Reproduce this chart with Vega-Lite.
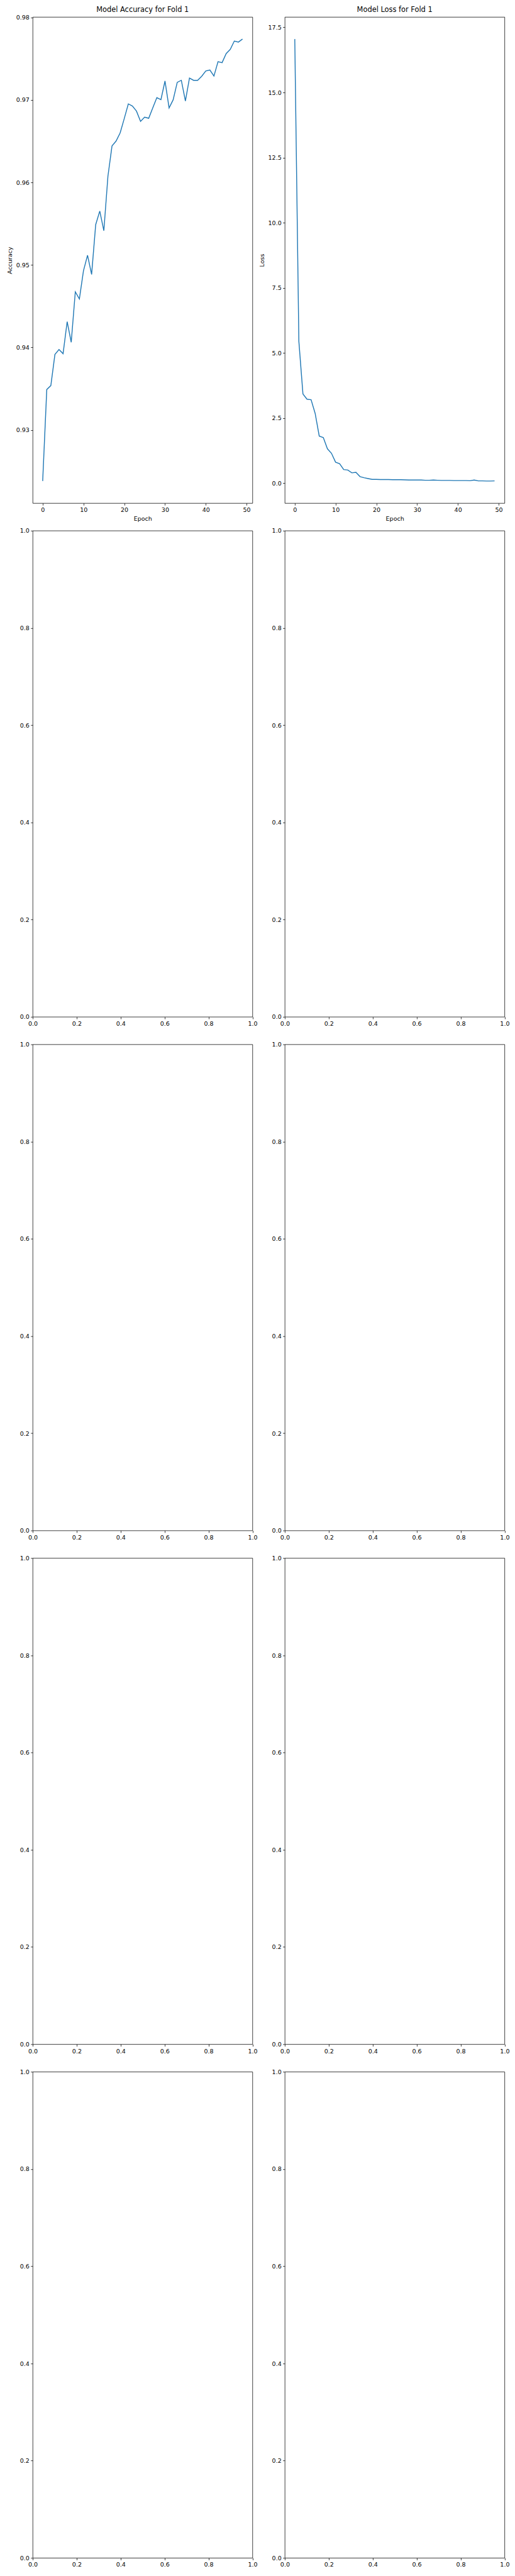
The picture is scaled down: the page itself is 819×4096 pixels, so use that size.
{
  "$schema": "https://vega.github.io/schema/vega-lite/v6.json",
  "background": "white",
  "padding": {"left": 10, "top": 9, "right": 0, "bottom": 0},
  "datasets": {
    "acc": [
      {"epoch": 0, "accuracy": 0.9238}, {"epoch": 1, "accuracy": 0.93489}, {"epoch": 2, "accuracy": 0.93537},
      {"epoch": 3, "accuracy": 0.93915}, {"epoch": 4, "accuracy": 0.93974}, {"epoch": 5, "accuracy": 0.93924},
      {"epoch": 6, "accuracy": 0.94312}, {"epoch": 7, "accuracy": 0.94062}, {"epoch": 8, "accuracy": 0.94674},
      {"epoch": 9, "accuracy": 0.94588}, {"epoch": 10, "accuracy": 0.94928}, {"epoch": 11, "accuracy": 0.95117},
      {"epoch": 12, "accuracy": 0.94885}, {"epoch": 13, "accuracy": 0.95488}, {"epoch": 14, "accuracy": 0.95653},
      {"epoch": 15, "accuracy": 0.95415}, {"epoch": 16, "accuracy": 0.96075}, {"epoch": 17, "accuracy": 0.96442},
      {"epoch": 18, "accuracy": 0.96502}, {"epoch": 19, "accuracy": 0.96601}, {"epoch": 20, "accuracy": 0.96774},
      {"epoch": 21, "accuracy": 0.96952}, {"epoch": 22, "accuracy": 0.96927}, {"epoch": 23, "accuracy": 0.96865},
      {"epoch": 24, "accuracy": 0.9674}, {"epoch": 25, "accuracy": 0.96792}, {"epoch": 26, "accuracy": 0.96778},
      {"epoch": 27, "accuracy": 0.96905}, {"epoch": 28, "accuracy": 0.97028}, {"epoch": 29, "accuracy": 0.97004},
      {"epoch": 30, "accuracy": 0.9723}, {"epoch": 31, "accuracy": 0.96903}, {"epoch": 32, "accuracy": 0.97002},
      {"epoch": 33, "accuracy": 0.97214}, {"epoch": 34, "accuracy": 0.97238}, {"epoch": 35, "accuracy": 0.96988},
      {"epoch": 36, "accuracy": 0.97266}, {"epoch": 37, "accuracy": 0.97238}, {"epoch": 38, "accuracy": 0.97238},
      {"epoch": 39, "accuracy": 0.97288}, {"epoch": 40, "accuracy": 0.97351}, {"epoch": 41, "accuracy": 0.97363},
      {"epoch": 42, "accuracy": 0.9729}, {"epoch": 43, "accuracy": 0.97464}, {"epoch": 44, "accuracy": 0.97452},
      {"epoch": 45, "accuracy": 0.97562}, {"epoch": 46, "accuracy": 0.97613}, {"epoch": 47, "accuracy": 0.97714},
      {"epoch": 48, "accuracy": 0.97702}, {"epoch": 49, "accuracy": 0.97738}
    ],
    "loss": [
      {"epoch": 0, "loss": 17.05}, {"epoch": 1, "loss": 5.447}, {"epoch": 2, "loss": 3.426},
      {"epoch": 3, "loss": 3.224}, {"epoch": 4, "loss": 3.205}, {"epoch": 5, "loss": 2.676},
      {"epoch": 6, "loss": 1.807}, {"epoch": 7, "loss": 1.751}, {"epoch": 8, "loss": 1.322},
      {"epoch": 9, "loss": 1.146}, {"epoch": 10, "loss": 0.806}, {"epoch": 11, "loss": 0.749},
      {"epoch": 12, "loss": 0.523}, {"epoch": 13, "loss": 0.504}, {"epoch": 14, "loss": 0.397},
      {"epoch": 15, "loss": 0.416}, {"epoch": 16, "loss": 0.252}, {"epoch": 17, "loss": 0.208},
      {"epoch": 18, "loss": 0.176}, {"epoch": 19, "loss": 0.145}, {"epoch": 20, "loss": 0.145},
      {"epoch": 21, "loss": 0.139}, {"epoch": 22, "loss": 0.139}, {"epoch": 23, "loss": 0.139},
      {"epoch": 24, "loss": 0.132}, {"epoch": 25, "loss": 0.132}, {"epoch": 26, "loss": 0.132},
      {"epoch": 27, "loss": 0.126}, {"epoch": 28, "loss": 0.12}, {"epoch": 29, "loss": 0.12},
      {"epoch": 30, "loss": 0.12}, {"epoch": 31, "loss": 0.12}, {"epoch": 32, "loss": 0.113},
      {"epoch": 33, "loss": 0.113}, {"epoch": 34, "loss": 0.12}, {"epoch": 35, "loss": 0.113},
      {"epoch": 36, "loss": 0.107}, {"epoch": 37, "loss": 0.107}, {"epoch": 38, "loss": 0.107},
      {"epoch": 39, "loss": 0.101}, {"epoch": 40, "loss": 0.101}, {"epoch": 41, "loss": 0.101},
      {"epoch": 42, "loss": 0.101}, {"epoch": 43, "loss": 0.094}, {"epoch": 44, "loss": 0.12},
      {"epoch": 45, "loss": 0.088}, {"epoch": 46, "loss": 0.088}, {"epoch": 47, "loss": 0.082},
      {"epoch": 48, "loss": 0.082}, {"epoch": 49, "loss": 0.088}
    ],
    "empty": []
  },
  "columns": 2,
  "spacing": {"row": 43.8, "column": 50.9},
  "bounds": "flush",
  "align": "all",
  "concat": [
    {
      "width": 349.5, "height": 773,
      "title": {"text": "Model Accuracy for Fold 1", "offset": 1},
      "data": {"name": "acc"},
      "mark": {"type": "line", "color": "#1f77b4", "strokeWidth": 1.42},
      "encoding": {
        "x": {"field": "epoch", "type": "quantitative", "scale": {"domain": [-2.45, 51.45], "nice": false, "zero": false},
              "axis": {"values": [0, 10, 20, 30, 40, 50], "format": "d", "title": "Epoch"}},
        "y": {"field": "accuracy", "type": "quantitative", "scale": {"domain": [0.92112, 0.98006], "nice": false, "zero": false},
              "axis": {"values": [0.93, 0.94, 0.95, 0.96, 0.97, 0.98], "format": ".2f", "title": "Accuracy"}}
      }
    },
    {
      "width": 349.5, "height": 773,
      "title": {"text": "Model Loss for Fold 1", "offset": 5.7},
      "data": {"name": "loss"},
      "mark": {"type": "line", "color": "#1f77b4", "strokeWidth": 1.42},
      "encoding": {
        "x": {"field": "epoch", "type": "quantitative", "scale": {"domain": [-2.45, 51.45], "nice": false, "zero": false},
              "axis": {"values": [0, 10, 20, 30, 40, 50], "format": "d", "title": "Epoch"}},
        "y": {"field": "loss", "type": "quantitative", "scale": {"domain": [-0.766, 17.898], "nice": false, "zero": false},
              "axis": {"values": [0, 2.5, 5, 7.5, 10, 12.5, 15, 17.5], "format": ".1f", "title": "Loss"}}
      }
    },
    {
      "width": 349.5, "height": 773, "data": {"name": "empty"}, "mark": "line",
      "encoding": {
        "x": {"field": "x", "type": "quantitative", "scale": {"domain": [0, 1], "nice": false}, "axis": {"values": [0, 0.2, 0.4, 0.6, 0.8, 1], "format": ".1f", "title": null}},
        "y": {"field": "y", "type": "quantitative", "scale": {"domain": [0, 1], "nice": false}, "axis": {"values": [0, 0.2, 0.4, 0.6, 0.8, 1], "format": ".1f", "title": null}}
      }
    },
    {
      "width": 349.5, "height": 773, "data": {"name": "empty"}, "mark": "line",
      "encoding": {
        "x": {"field": "x", "type": "quantitative", "scale": {"domain": [0, 1], "nice": false}, "axis": {"values": [0, 0.2, 0.4, 0.6, 0.8, 1], "format": ".1f", "title": null}},
        "y": {"field": "y", "type": "quantitative", "scale": {"domain": [0, 1], "nice": false}, "axis": {"values": [0, 0.2, 0.4, 0.6, 0.8, 1], "format": ".1f", "title": null}}
      }
    },
    {
      "width": 349.5, "height": 773, "data": {"name": "empty"}, "mark": "line",
      "encoding": {
        "x": {"field": "x", "type": "quantitative", "scale": {"domain": [0, 1], "nice": false}, "axis": {"values": [0, 0.2, 0.4, 0.6, 0.8, 1], "format": ".1f", "title": null}},
        "y": {"field": "y", "type": "quantitative", "scale": {"domain": [0, 1], "nice": false}, "axis": {"values": [0, 0.2, 0.4, 0.6, 0.8, 1], "format": ".1f", "title": null}}
      }
    },
    {
      "width": 349.5, "height": 773, "data": {"name": "empty"}, "mark": "line",
      "encoding": {
        "x": {"field": "x", "type": "quantitative", "scale": {"domain": [0, 1], "nice": false}, "axis": {"values": [0, 0.2, 0.4, 0.6, 0.8, 1], "format": ".1f", "title": null}},
        "y": {"field": "y", "type": "quantitative", "scale": {"domain": [0, 1], "nice": false}, "axis": {"values": [0, 0.2, 0.4, 0.6, 0.8, 1], "format": ".1f", "title": null}}
      }
    },
    {
      "width": 349.5, "height": 773, "data": {"name": "empty"}, "mark": "line",
      "encoding": {
        "x": {"field": "x", "type": "quantitative", "scale": {"domain": [0, 1], "nice": false}, "axis": {"values": [0, 0.2, 0.4, 0.6, 0.8, 1], "format": ".1f", "title": null}},
        "y": {"field": "y", "type": "quantitative", "scale": {"domain": [0, 1], "nice": false}, "axis": {"values": [0, 0.2, 0.4, 0.6, 0.8, 1], "format": ".1f", "title": null}}
      }
    },
    {
      "width": 349.5, "height": 773, "data": {"name": "empty"}, "mark": "line",
      "encoding": {
        "x": {"field": "x", "type": "quantitative", "scale": {"domain": [0, 1], "nice": false}, "axis": {"values": [0, 0.2, 0.4, 0.6, 0.8, 1], "format": ".1f", "title": null}},
        "y": {"field": "y", "type": "quantitative", "scale": {"domain": [0, 1], "nice": false}, "axis": {"values": [0, 0.2, 0.4, 0.6, 0.8, 1], "format": ".1f", "title": null}}
      }
    },
    {
      "width": 349.5, "height": 773, "data": {"name": "empty"}, "mark": "line",
      "encoding": {
        "x": {"field": "x", "type": "quantitative", "scale": {"domain": [0, 1], "nice": false}, "axis": {"values": [0, 0.2, 0.4, 0.6, 0.8, 1], "format": ".1f", "title": null}},
        "y": {"field": "y", "type": "quantitative", "scale": {"domain": [0, 1], "nice": false}, "axis": {"values": [0, 0.2, 0.4, 0.6, 0.8, 1], "format": ".1f", "title": null}}
      }
    },
    {
      "width": 349.5, "height": 773, "data": {"name": "empty"}, "mark": "line",
      "encoding": {
        "x": {"field": "x", "type": "quantitative", "scale": {"domain": [0, 1], "nice": false}, "axis": {"values": [0, 0.2, 0.4, 0.6, 0.8, 1], "format": ".1f", "title": null}},
        "y": {"field": "y", "type": "quantitative", "scale": {"domain": [0, 1], "nice": false}, "axis": {"values": [0, 0.2, 0.4, 0.6, 0.8, 1], "format": ".1f", "title": null}}
      }
    }
  ],
  "config": {
    "view": {"stroke": "black", "strokeWidth": 0.76},
    "font": "DejaVu Sans",
    "axis": {
      "domain": false, "grid": false, "ticks": true, "tickColor": "black", "tickWidth": 0.76, "tickSize": 3.3,
      "labelFont": "DejaVu Sans", "labelFontSize": 9.5, "labelColor": "black", "labelPadding": 2.4,
      "labelFlush": false, "labelOverlap": false,
      "titleFont": "DejaVu Sans", "titleFontSize": 9.5, "titleFontWeight": "normal", "titleColor": "black"
    },
    "axisX": {"titlePadding": 4},
    "axisY": {"titlePadding": 4.5},
    "title": {"font": "DejaVu Sans", "fontSize": 11.4, "fontWeight": "normal", "color": "black", "anchor": "middle", "frame": "group", "baseline": "alphabetic"}
  }
}
